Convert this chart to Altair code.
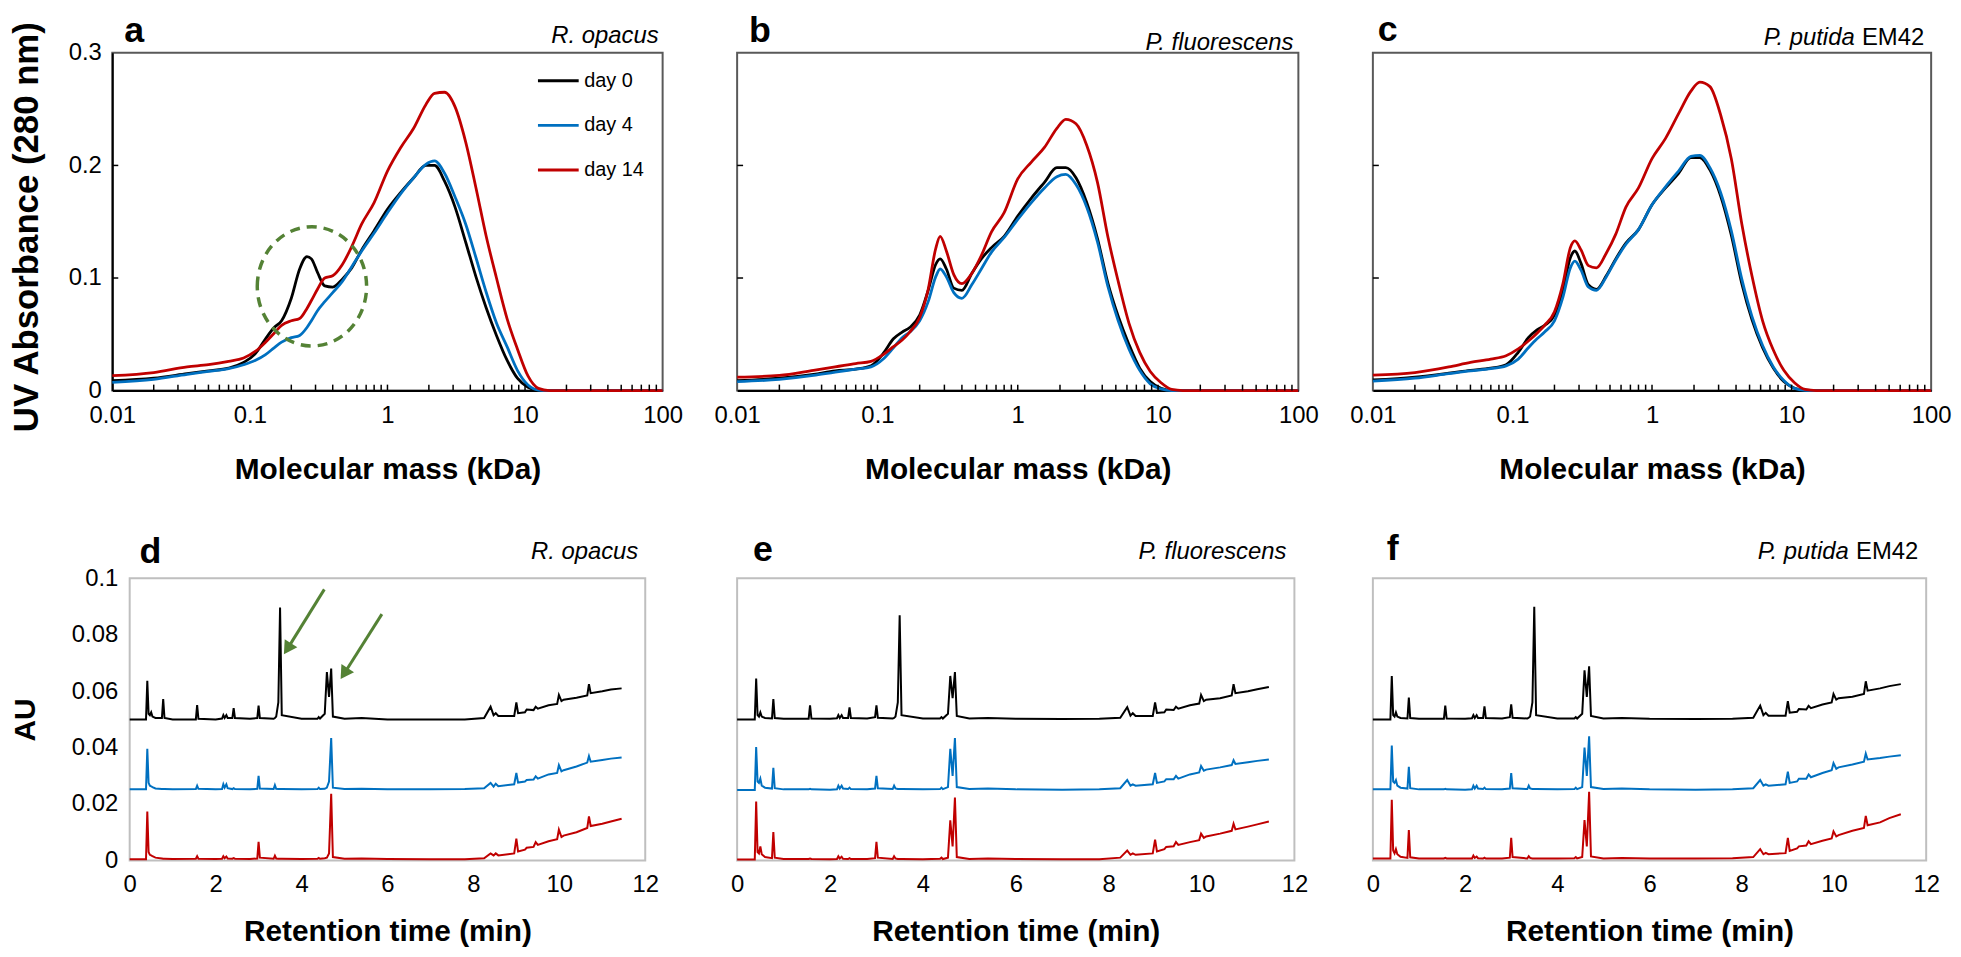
import altair as alt
import pandas as pd

FONT = "Liberation Sans"
DAYS = ["day 0", "day 4", "day 14"]
COLORS = ["#000000", "#0070C0", "#C00000"]
GREEN = "#548235"

# ---------------- top row: molecular mass distributions ----------------
MASS = [0.01, 0.02, 0.035, 0.05, 0.07, 0.09, 0.11, 0.13, 0.15, 0.17,
        0.2, 0.23, 0.26, 0.28, 0.31, 0.35, 0.4, 0.47, 0.55, 0.65,
        0.8, 1.0, 1.25, 1.55, 1.9, 2.2, 2.6, 3.1, 3.7, 4.4,
        5.2, 6.2, 7.4, 8.8, 10.5, 12.5, 15, 30, 100]

A_DAY0 = [0.0088, 0.011, 0.015, 0.0175, 0.020, 0.025, 0.033, 0.046, 0.056, 0.062,
          0.082, 0.108, 0.119, 0.117, 0.105, 0.093, 0.092, 0.099, 0.109, 0.125,
          0.142, 0.161, 0.176, 0.189, 0.200, 0.200, 0.186, 0.163, 0.132, 0.101,
          0.074, 0.049, 0.027, 0.011, 0.003, 0.0005, 0, 0, 0]
A_DAY4 = [0.0073, 0.010, 0.0145, 0.017, 0.0195, 0.023, 0.027, 0.032, 0.038, 0.043,
          0.047, 0.049, 0.056, 0.062, 0.071, 0.079, 0.087, 0.097, 0.110, 0.124,
          0.140, 0.158, 0.175, 0.189, 0.201, 0.204, 0.193, 0.172, 0.148, 0.118,
          0.088, 0.060, 0.039, 0.018, 0.005, 0.0005, 0, 0, 0]
A_DAY14 = [0.0132, 0.016, 0.021, 0.023, 0.026, 0.029, 0.035, 0.043, 0.051, 0.058,
           0.062, 0.064, 0.073, 0.080, 0.090, 0.100, 0.102, 0.112, 0.128, 0.148,
           0.167, 0.195, 0.216, 0.233, 0.254, 0.264, 0.265, 0.252, 0.221, 0.180,
           0.138, 0.100, 0.064, 0.037, 0.013, 0.002, 0, 0, 0]

B_DAY0 = [0.0089, 0.011, 0.0145, 0.0175, 0.019, 0.022, 0.033, 0.046, 0.052, 0.056,
          0.067, 0.089, 0.112, 0.117, 0.108, 0.091, 0.089, 0.104, 0.117, 0.127,
          0.137, 0.155, 0.171, 0.185, 0.198, 0.198, 0.189, 0.167, 0.135, 0.095,
          0.066, 0.041, 0.020, 0.008, 0.002, 0, 0, 0, 0]
B_DAY4 = [0.008, 0.010, 0.0135, 0.0165, 0.019, 0.021, 0.028, 0.038, 0.047, 0.052,
          0.062, 0.079, 0.101, 0.108, 0.101, 0.087, 0.082, 0.094, 0.108, 0.123,
          0.136, 0.152, 0.167, 0.180, 0.190, 0.192, 0.183, 0.163, 0.132, 0.092,
          0.062, 0.037, 0.018, 0.006, 0.0015, 0, 0, 0, 0]
B_DAY14 = [0.0119, 0.0135, 0.018, 0.021, 0.024, 0.026, 0.032, 0.039, 0.045, 0.052,
           0.065, 0.090, 0.126, 0.137, 0.124, 0.103, 0.095, 0.104, 0.120, 0.141,
           0.158, 0.188, 0.203, 0.216, 0.233, 0.241, 0.237, 0.218, 0.185, 0.136,
           0.097, 0.060, 0.034, 0.017, 0.007, 0.001, 0, 0, 0]

C_DAY0 = [0.0094, 0.012, 0.0155, 0.018, 0.020, 0.023, 0.034, 0.047, 0.054, 0.058,
          0.067, 0.090, 0.118, 0.124, 0.113, 0.094, 0.090, 0.102, 0.117, 0.131,
          0.143, 0.165, 0.180, 0.193, 0.207, 0.207, 0.196, 0.173, 0.138, 0.095,
          0.063, 0.038, 0.020, 0.008, 0.002, 0, 0, 0, 0]
C_DAY4 = [0.0085, 0.011, 0.015, 0.0175, 0.0195, 0.022, 0.028, 0.038, 0.046, 0.052,
          0.062, 0.083, 0.109, 0.115, 0.107, 0.092, 0.089, 0.101, 0.116, 0.130,
          0.143, 0.165, 0.181, 0.195, 0.208, 0.209, 0.198, 0.176, 0.142, 0.099,
          0.066, 0.040, 0.021, 0.009, 0.002, 0.0003, 0, 0, 0]
C_DAY14 = [0.0138, 0.016, 0.021, 0.025, 0.028, 0.031, 0.037, 0.044, 0.051, 0.058,
           0.070, 0.095, 0.127, 0.133, 0.125, 0.111, 0.109, 0.122, 0.139, 0.163,
           0.180, 0.206, 0.224, 0.246, 0.266, 0.274, 0.270, 0.245, 0.206, 0.148,
           0.102, 0.062, 0.036, 0.018, 0.007, 0.001, 0, 0, 0]

MASS_TICKS = [0.02, 0.03, 0.04, 0.05, 0.06, 0.07, 0.08, 0.09, 0.1,
              0.2, 0.3, 0.4, 0.5, 0.6, 0.7, 0.8, 0.9, 1,
              2, 3, 4, 5, 6, 7, 8, 9, 10,
              20, 30, 40, 50, 60, 70, 80, 90]
MASS_LABELS = [0.01, 0.1, 1, 10, 100]
ABS_TICKS = [0.1, 0.2]
ABS_LABELS = [0, 0.1, 0.2, 0.3]

# highlighted region (panel a)
ELLIPSE_MASS = [0.2825]
ELLIPSE_ABS = [0.0926]

# ---------------- bottom row: chromatograms (values in 1/1000 AU) ----------------
TIME = [0.0, 0.38, 0.41, 0.44, 0.47, 0.50, 0.53, 0.60, 0.75, 0.78,
        0.81, 1.0, 1.54, 1.57, 1.60, 2.0, 2.15, 2.18, 2.21, 2.25,
        2.28, 2.39, 2.42, 2.45, 2.8, 2.97, 3.0, 3.03, 3.35, 3.38,
        3.41, 3.46, 3.50, 3.54, 4.0, 4.37, 4.40, 4.43, 4.54, 4.59,
        4.64, 4.69, 4.73, 5.0, 5.4, 6.0, 7.0, 7.8, 8.25, 8.40,
        8.47, 8.52, 8.58, 8.95, 9.0, 9.04, 9.2, 9.24, 9.4, 9.45,
        9.5, 9.75, 9.95, 9.99, 10.05, 10.1, 10.4, 10.65, 10.69, 10.73,
        11.0, 11.2, 11.45]

D_DAY0 = [50, 50, 63.7, 52, 51.5, 52.5, 51, 50.5, 50.5, 57.2,
          50.5, 50, 50, 55.1, 50.2, 50, 50.3, 51.5, 50.5, 51.5,
          50.5, 50.5, 54.0, 50.5, 50.2, 50.5, 54.9, 50.5, 50.2, 50.5,
          51, 56, 89.7, 51.5, 50.2, 50.2, 50.8, 50.3, 52, 66.8,
          58, 68, 51, 50.2, 50.5, 50, 50, 50, 50.5, 54.5,
          51.5, 52.2, 51.2, 51.2, 56, 52.2, 52.5, 53.5, 53.3, 54.5,
          53.8, 55, 55.5, 58.7, 56.5, 57, 57.7, 58.5, 62.5, 59.3,
          60, 60.6, 61]
D_DAY4 = [25.2, 25.2, 39.6, 27.5, 26.5, 26.3, 26, 25.5, 25.3, 25.3,
          25.3, 25.2, 25.3, 26.5, 25.4, 25.2, 25.3, 27, 25.8, 27,
          25.6, 25.3, 25.6, 25.3, 25.2, 25.4, 30, 25.5, 25.3, 26.7,
          25.4, 25.3, 25.3, 25.3, 25.2, 25.3, 25.8, 25.3, 25.4, 25.8,
          28, 43.4, 25.8, 25.3, 25.4, 25.2, 25.2, 25.3, 25.6, 27.5,
          26.2, 27.2, 26.3, 27, 31, 27.6, 28, 28.5, 28.7, 29.8,
          29, 30.5, 31, 33.8, 31.6, 32, 33.3, 34.7, 37, 35,
          35.6, 36.1, 36.5]
D_DAY14 = [0.4, 0.4, 17.3, 3, 2, 1.8, 1.5, 1, 0.7, 0.6,
           0.6, 0.5, 0.6, 1.5, 0.6, 0.5, 0.6, 1.5, 0.8, 1.4,
           0.7, 0.6, 0.8, 0.6, 0.5, 0.7, 6.6, 1, 0.6, 1.7,
           0.7, 0.6, 0.6, 0.6, 0.5, 0.6, 0.9, 0.6, 0.8, 1,
           2.5, 23.6, 1.2, 0.6, 0.7, 0.5, 0.4, 0.4, 0.8, 2.5,
           1.8, 2.5, 1.8, 2.5, 7.7, 3.2, 3.8, 4.5, 4.8, 6.5,
           5.5, 6.8, 7.5, 10.9, 8.3, 8.8, 10, 11.5, 15.6, 12.2,
           13, 13.8, 14.8]

E_DAY0 = [50, 50, 64.5, 51.5, 51, 52.5, 51, 50.5, 50.3, 57.2,
          50.5, 50.2, 50.2, 55, 50.3, 50.2, 50.4, 51.5, 50.5, 51.5,
          50.5, 50.5, 54.3, 50.5, 50.3, 50.8, 55, 50.6, 50.3, 50.5,
          51, 56, 86.9, 51.5, 50.3, 50.3, 50.8, 50.3, 52, 65.4,
          57.5, 66.8, 51.2, 50.3, 50.5, 50.2, 50.1, 50.2, 50.6, 54.3,
          51.3, 52.2, 51.2, 51.2, 56, 52.3, 52.5, 53.5, 53.3, 54.5,
          53.8, 55, 55.6, 58.7, 56.5, 57, 57.5, 58.5, 62.5, 59.3,
          60, 60.7, 61.5]
E_DAY4 = [25, 25, 40.2, 28, 27.5, 29, 26.5, 25.8, 25.5, 32.8,
          25.6, 25.2, 25.2, 25.4, 25.2, 25.1, 25.2, 26.5, 25.5, 26.5,
          25.5, 25.3, 25.8, 25.3, 25.2, 25.5, 30, 25.6, 25.3, 26.5,
          25.5, 25.3, 25.3, 25.3, 25.2, 25.3, 25.8, 25.3, 26, 39.6,
          30, 43.4, 26, 25.3, 25.5, 25.2, 25.1, 25.2, 25.6, 28.5,
          26.5, 27, 26.5, 27, 31, 27.5, 28, 28.8, 28.8, 30,
          29, 30.5, 31.2, 33.5, 31.8, 32.2, 33, 33.8, 35.5, 34.2,
          34.8, 35.3, 35.8]
E_DAY14 = [0.3, 0.3, 20.9, 3, 2.5, 5, 2.2, 1.2, 0.8, 10.1,
           1, 0.5, 0.5, 0.7, 0.5, 0.4, 0.5, 1.5, 0.7, 1.3,
           0.6, 0.5, 0.8, 0.5, 0.5, 0.8, 6.6, 1, 0.5, 1.5,
           0.7, 0.5, 0.5, 0.5, 0.4, 0.6, 1, 0.5, 1, 14.2,
           5, 22.3, 1.2, 0.5, 0.7, 0.5, 0.4, 0.4, 1, 3.5,
           2, 2.5, 2, 2.5, 7.4, 3.2, 4, 4.8, 5, 6.5,
           5.5, 6.5, 7.2, 9.5, 8, 8.5, 9.5, 10.5, 13, 11,
           12, 12.8, 13.8]

F_DAY0 = [50, 50, 65.4, 51.5, 51, 52.5, 51, 50.5, 50.3, 57.7,
          50.5, 50.2, 50.2, 54.9, 50.3, 50.2, 50.4, 51.5, 50.5, 51.5,
          50.5, 50.5, 54.6, 50.5, 50.3, 50.8, 55.3, 50.6, 50.3, 50.6,
          51, 56, 89.9, 51.5, 50.3, 50.3, 50.8, 50.3, 52, 67.4,
          58, 68.8, 51.2, 50.3, 50.5, 50.2, 50.1, 50.2, 50.6, 54.9,
          51.5, 52.3, 51.3, 51.3, 56.5, 52.4, 52.7, 53.7, 53.5, 54.8,
          54, 55.3, 56, 59, 57, 57.5, 58, 59, 63.5, 60.2,
          61, 61.8, 62.5]
F_DAY4 = [25.2, 25.2, 40.7, 28, 27.5, 28.5, 26.5, 25.8, 25.5, 33.2,
          25.6, 25.2, 25.2, 25.4, 25.2, 25.1, 25.2, 26.5, 25.5, 26.5,
          25.5, 25.3, 25.8, 25.3, 25.2, 25.5, 31, 25.6, 25.3, 26.5,
          25.5, 25.3, 25.3, 25.3, 25.2, 25.3, 25.8, 25.3, 26, 40,
          30, 44, 26, 25.3, 25.5, 25.2, 25.1, 25.2, 25.6, 28.5,
          26.5, 27, 26.5, 27, 31.5, 27.5, 28, 29, 29, 30.5,
          29.5, 31, 32, 34.5, 32.5, 33, 34, 35, 37.9, 35.8,
          36.3, 36.8, 37.3]
F_DAY14 = [0.7, 0.7, 21.5, 3.5, 2.5, 4, 2.2, 1.3, 0.9, 10.8,
           1.1, 0.7, 0.7, 0.9, 0.7, 0.7, 0.7, 1.7, 0.9, 1.4,
           0.8, 0.7, 1, 0.7, 0.7, 1, 8, 1.2, 0.7, 1.5,
           0.9, 0.7, 0.7, 0.7, 0.7, 0.8, 1.2, 0.7, 1.2, 14.3,
           5, 24.3, 1.4, 0.7, 0.9, 0.7, 0.7, 0.8, 1.2, 4,
           2.2, 2.7, 2.2, 2.6, 8, 3.4, 4.3, 5, 5.3, 6.8,
           5.8, 7, 7.8, 10.3, 8.5, 9, 10.5, 11.5, 15.8, 12.5,
           13.5, 15, 16.4]

TIME_LABELS = [0, 2, 4, 6, 8, 10, 12]
AU_LABELS = [0, 0.02, 0.04, 0.06, 0.08, 0.1]

# arrows in panel d (start -> head)
ARROW_T0 = [4.53, 5.87]
ARROW_V0 = [0.0961, 0.0873]
ARROW_T1 = [3.70, 5.02]
ARROW_V1 = [0.0757, 0.0669]

TOP_H = 340
BOT_H = 284


def color_enc(legend):
    return alt.Color("day:N", scale=alt.Scale(domain=DAYS, range=COLORS), legend=legend)


def text_layer(txt, x, y, size, style="normal", weight="normal", align="left"):
    return alt.Chart(pd.DataFrame({"label": [txt]})).mark_text(
        align=align, baseline="alphabetic", font=FONT, fontSize=size,
        fontStyle=style, fontWeight=weight, color="black"
    ).encode(text="label:N", x=alt.value(x), y=alt.value(y))


def species_layers(name, strain, w, rx, y):
    if strain:
        return [text_layer(strain, w - rx, y, 24, align="right"),
                text_layer(name, w - rx - 70, y, 24, style="italic", align="right")]
    return [text_layer(name, w - rx, y, 24, style="italic", align="right")]


def mw_panel(series, letter, lpos, species, strain, spos, w, first):
    rows = []
    for day, vals in zip(DAYS, series):
        for m, v in zip(MASS, vals):
            rows.append({"mass": m, "absorbance": v, "day": day})
    df = pd.DataFrame(rows)
    xs = alt.Scale(type="log", domain=[0.01, 100])
    ys = alt.Scale(domain=[0, 0.3])
    xaxis = alt.Axis(values=MASS_LABELS, format="~g", title="Molecular mass (kDa)",
                     ticks=False, tickSize=0, grid=False, domainColor="black", domainWidth=2,
                     labelFont=FONT, labelFontSize=24, labelColor="black", labelPadding=13,
                     labelOverlap=False, labelFlush=False,
                     titleFont=FONT, titleFontSize=30, titleFontWeight="bold", titleColor="black",
                     titleY=88, titleBaseline="alphabetic")
    if first:
        yaxis = alt.Axis(values=ABS_LABELS, format="~g", title="UV Absorbance (280 nm)",
                         ticks=False, tickSize=0, grid=False, domainColor="black", domainWidth=2,
                         labelFont=FONT, labelFontSize=24, labelColor="black", labelPadding=11,
                         titleFont=FONT, titleFontSize=35, titleFontWeight="bold", titleColor="black",
                         titleAngle=270, titleX=-75, titleY=175, titleAlign="center",
                         titleBaseline="alphabetic")
        legend = alt.Legend(title=None, orient="none", legendX=427, legendY=6,
                            symbolType="stroke", symbolSize=1681, symbolStrokeWidth=3,
                            labelFont=FONT, labelFontSize=20, labelColor="black",
                            labelOffset=4, rowPadding=13, padding=0, direction="vertical")
    else:
        yaxis = None
        legend = None
    lines = alt.Chart(df).mark_line(strokeWidth=2.8, interpolate="monotone").encode(
        x=alt.X("mass:Q", scale=xs, axis=xaxis),
        y=alt.Y("absorbance:Q", scale=ys, axis=yaxis),
        color=color_enc(legend),
    )
    xt = alt.Chart(pd.DataFrame({"mass": MASS_TICKS})).mark_rule(color="black", strokeWidth=1.5).encode(
        x=alt.X("mass:Q", scale=xs, axis=xaxis), y=alt.value(TOP_H), y2=alt.value(TOP_H - 6))
    yt = alt.Chart(pd.DataFrame({"absorbance": ABS_TICKS})).mark_rule(color="black", strokeWidth=1.5).encode(
        y=alt.Y("absorbance:Q", scale=ys, axis=yaxis), x=alt.value(0), x2=alt.value(6))
    layers = [lines, xt, yt]
    if first:
        ell = alt.Chart(pd.DataFrame({"mass": ELLIPSE_MASS, "absorbance": ELLIPSE_ABS})).mark_point(
            shape="M -0.917 0 A 0.917 1 0 1 1 0.917 0 A 0.917 1 0 1 1 -0.917 0 Z",
            size=14400, filled=False, strokeWidth=3.5, strokeDash=[10, 7],
            color=GREEN, opacity=1,
        ).encode(x=alt.X("mass:Q", scale=xs, axis=xaxis), y=alt.Y("absorbance:Q", scale=ys, axis=yaxis))
        layers.append(ell)
    layers.append(text_layer(letter, lpos[0], lpos[1], 36, weight="bold"))
    layers += species_layers(species, strain, w, spos[0], spos[1])
    return alt.layer(*layers).properties(
        width=w, height=TOP_H,
        view=alt.ViewBackground(stroke="#595959", strokeWidth=2))


def chrom_panel(series, letter, lpos, species, strain, spos, w, first):
    rows = []
    for day, vals in zip(DAYS, series):
        for t, v in zip(TIME, vals):
            rows.append({"time": t, "au": v / 1000.0, "day": day})
    df = pd.DataFrame(rows)
    xs = alt.Scale(domain=[0, 12])
    ys = alt.Scale(domain=[0, 0.1])
    xaxis = alt.Axis(values=TIME_LABELS, format="d", title="Retention time (min)",
                     ticks=False, tickSize=0, grid=False, domain=False,
                     labelFont=FONT, labelFontSize=24, labelColor="black", labelPadding=12,
                     labelOverlap=False, labelFlush=False,
                     titleFont=FONT, titleFontSize=30, titleFontWeight="bold", titleColor="black",
                     titleY=81, titleBaseline="alphabetic")
    if first:
        yaxis = alt.Axis(values=AU_LABELS, format="~g", title="AU",
                         ticks=False, tickSize=0, grid=False, domain=False,
                         labelFont=FONT, labelFontSize=24, labelColor="black", labelPadding=12,
                         titleFont=FONT, titleFontSize=30, titleFontWeight="bold", titleColor="black",
                         titleAngle=270, titleX=-96, titleY=142, titleAlign="center",
                         titleBaseline="alphabetic")
    else:
        yaxis = None
    lines = alt.Chart(df).mark_line(strokeWidth=2).encode(
        x=alt.X("time:Q", scale=xs, axis=xaxis),
        y=alt.Y("au:Q", scale=ys, axis=yaxis),
        color=color_enc(None),
    )
    layers = [lines]
    if first:
        adf = pd.DataFrame({"time": ARROW_T0, "au": ARROW_V0, "t1": ARROW_T1, "v1": ARROW_V1})
        shaft = alt.Chart(adf).mark_rule(color=GREEN, strokeWidth=3).encode(
            x=alt.X("time:Q", scale=xs, axis=xaxis), x2="t1:Q",
            y=alt.Y("au:Q", scale=ys, axis=yaxis), y2="v1:Q")
        hdf = pd.DataFrame({"time": ARROW_T1, "au": ARROW_V1})
        head = alt.Chart(hdf).mark_point(shape="triangle", filled=True, size=230, angle=213,
                                         color=GREEN, opacity=1).encode(
            x=alt.X("time:Q", scale=xs, axis=xaxis), y=alt.Y("au:Q", scale=ys, axis=yaxis))
        layers += [shaft, head]
    layers.append(text_layer(letter, lpos[0], lpos[1], 36, weight="bold"))
    layers += species_layers(species, strain, w, spos[0], spos[1])
    return alt.layer(*layers).properties(
        width=w, height=BOT_H,
        view=alt.ViewBackground(stroke="#BFBFBF", strokeWidth=2))


pa = mw_panel([A_DAY0, A_DAY4, A_DAY14], "a", (12, -11), "R. opacus", None, (4, -10), 554, True)
pb = mw_panel([B_DAY0, B_DAY4, B_DAY14], "b", (12, -11), "P. fluorescens", None, (5, -3), 565, False)
pc = mw_panel([C_DAY0, C_DAY4, C_DAY14], "c", (5, -12), "P. putida", "EM42", (7, -8), 562, False)
pd_ = chrom_panel([D_DAY0, D_DAY4, D_DAY14], "d", (10, -15), "R. opacus", None, (7, -19), 519, True)
pe = chrom_panel([E_DAY0, E_DAY4, E_DAY14], "e", (16, -17), "P. fluorescens", None, (8, -19), 561, False)
pf = chrom_panel([F_DAY0, F_DAY4, F_DAY14], "f", (14, -18), "P. putida", "EM42", (8, -19), 557, False)

chart = alt.concat(
    pa, pb, pc, pd_, pe, pf, columns=3, spacing={"row": 189, "column": 75}
).properties(
    bounds="flush", align="each", center=True,
    padding={"left": 0, "top": 0, "right": 0, "bottom": 0},
).resolve_scale(color="independent").configure(font=FONT)

chart.save("out.html", embed_options={"renderer": "svg", "actions": False})
